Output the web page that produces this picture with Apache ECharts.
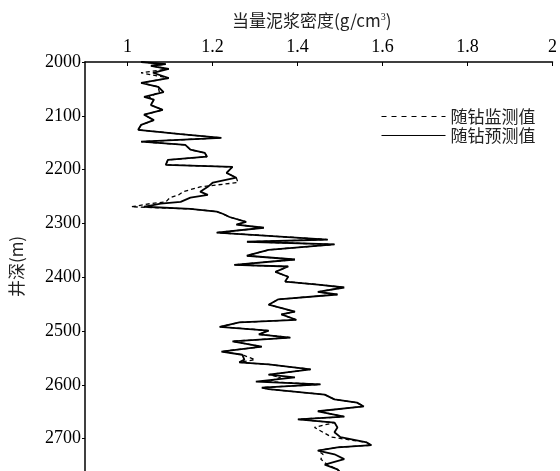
<!DOCTYPE html>
<html>
<head>
<meta charset="utf-8">
<script src="https://cdn.jsdelivr.net/npm/echarts@6/dist/echarts.min.js"></script>
<style>
    html, body { margin: 0; padding: 0; background: #fff; }
    #chart { width: 560px; height: 471px; }
</style>
</head>
<body>
<div id="chart"></div>
<script>
// 井深 (m)
const depths = [2000, 2004, 2007, 2013, 2020, 2030, 2039, 2046, 2056, 2065, 2070, 2080, 2089, 2098, 2108, 2117, 2126, 2134, 2141, 2148,
    2154, 2163, 2169, 2176, 2182, 2191, 2195, 2206, 2215, 2224, 2232, 2241, 2247, 2252, 2260, 2263, 2269, 2273, 2278, 2282,
    2288, 2297, 2302, 2308, 2317, 2330, 2334, 2339, 2349, 2360, 2367, 2377, 2380, 2390, 2399, 2408, 2414, 2419, 2427, 2432,
    2441, 2451, 2464, 2469, 2479, 2484, 2492, 2499, 2506, 2512, 2519, 2529, 2538, 2544, 2553, 2558, 2562, 2571, 2581, 2586,
    2594, 2599, 2605, 2608, 2618, 2627, 2633, 2640, 2649, 2659, 2664, 2670, 2679, 2688, 2697, 2707, 2712, 2716, 2722, 2729,
    2738, 2748, 2757, 2766];

// 随钻预测值
const predicted = [1.032, 1.090, 1.055, 1.097, 1.060, 1.097, 1.032, 1.072, 1.085, 1.039, 1.062, 1.055, 1.083, 1.039, 1.062, 1.032, 1.025, 1.125, 1.221, 1.032,
    1.136, 1.148, 1.182, 1.187, 1.095, 1.090, 1.247, 1.233, 1.256, 1.201, 1.189, 1.171, 1.189, 1.148, 1.125, 1.078, 1.039, 1.148, 1.210, 1.224,
    1.240, 1.279, 1.256, 1.321, 1.210, 1.471, 1.281, 1.487, 1.332, 1.281, 1.394, 1.251, 1.378, 1.348, 1.378, 1.371, 1.454, 1.510, 1.448, 1.494,
    1.355, 1.332, 1.394, 1.362, 1.397, 1.263, 1.217, 1.332, 1.309, 1.383, 1.247, 1.316, 1.221, 1.270, 1.275, 1.263, 1.332, 1.431, 1.332, 1.394,
    1.302, 1.454, 1.316, 1.332, 1.464, 1.487, 1.540, 1.556, 1.448, 1.510, 1.401, 1.487, 1.494, 1.487, 1.501, 1.563, 1.574, 1.494, 1.448, 1.487,
    1.510, 1.464, 1.494, 1.505];

// 随钻监测值
const monitored = [1.032, 1.090, 1.055, 1.097, 1.032, 1.097, 1.032, 1.072, 1.075, 1.050, 1.062, 1.055, 1.083, 1.039, 1.062, 1.032, 1.025, 1.125, 1.221, 1.032,
    1.136, 1.148, 1.182, 1.187, 1.095, 1.090, 1.247, 1.233, 1.256, 1.260, 1.171, 1.131, 1.120, 1.100, 1.090, 1.055, 1.009, 1.148, 1.210, 1.224,
    1.240, 1.279, 1.256, 1.321, 1.210, 1.471, 1.281, 1.487, 1.332, 1.281, 1.394, 1.251, 1.378, 1.348, 1.378, 1.371, 1.454, 1.510, 1.448, 1.494,
    1.355, 1.332, 1.394, 1.362, 1.397, 1.263, 1.217, 1.332, 1.309, 1.383, 1.247, 1.316, 1.221, 1.270, 1.300, 1.263, 1.332, 1.431, 1.332, 1.360,
    1.330, 1.454, 1.316, 1.332, 1.464, 1.487, 1.540, 1.556, 1.448, 1.510, 1.401, 1.487, 1.440, 1.460, 1.480, 1.563, 1.574, 1.494, 1.448, 1.460,
    1.455, 1.470, 1.494, 1.505];

const xTicks = [1, 1.2, 1.4, 1.6, 1.8, 2];
const legendNames = ['随钻监测值', '随钻预测值'];

const serif = 'Liberation Serif';
const cjk = 'Noto Sans CJK SC';

function pairs(values) {
    return values.map((v, i) => [v, depths[i]]);
}

const chart = echarts.init(document.getElementById('chart'));

const option = {
    animation: false,
    backgroundColor: '#fff',
    grid: {
        left: 84,
        top: 62,
        width: 476,
        height: 410,
    },
    legend: {
        orient: 'vertical',
        left: 376,
        top: 103,
        itemWidth: 64,
        itemHeight: 14,
        itemGap: 2,
        itemStyle: { opacity: 0 },
        data: [
            { name: legendNames[0], lineStyle: { type: [5, 5], width: 1 } },
            { name: legendNames[1], lineStyle: { width: 1 } },
        ],
        textStyle: {
            fontFamily: cjk,
            fontSize: 17,
            color: '#222',
        },
    },
    xAxis: {
        type: 'value',
        position: 'top',
        min: 0.9,
        max: 2,
        name: '{a|当量泥浆密度(g/cm}{s|3}{a|)}',
        nameLocation: 'middle',
        nameGap: 33,
        nameTextStyle: {
            padding: [0, 14, 0, 0],
            rich: {
                a: { fontFamily: cjk, fontSize: 17, color: '#222' },
                s: { fontFamily: serif, fontSize: 10, color: '#222', verticalAlign: 'top' },
            },
        },
        axisLine: { lineStyle: { color: '#000', width: 1.5 } },
        axisTick: { inside: true, length: 4, customValues: xTicks, lineStyle: { color: '#000' } },
        axisLabel: {
            customValues: xTicks,
            margin: 6,
            fontFamily: serif,
            fontSize: 18,
            color: '#000',
            formatter: (v) => String(v),
        },
        splitLine: { show: false },
    },
    yAxis: {
        type: 'value',
        inverse: true,
        min: 2000,
        max: 2760,
        interval: 100,
        name: '井深(m)',
        nameLocation: 'middle',
        nameGap: 60,
        nameTextStyle: { fontFamily: cjk, fontSize: 17, color: '#222' },
        axisLine: { lineStyle: { color: '#000', width: 1.5 } },
        axisTick: { length: 3, lineStyle: { color: '#000' } },
        axisLabel: {
            showMaxLabel: false,
            margin: 4,
            fontFamily: serif,
            fontSize: 18,
            color: '#000',
            formatter: (v) => String(v),
        },
        splitLine: { show: false },
    },
    series: [
        {
            name: '随钻预测值',
            type: 'line',
            symbol: 'none',
            z: 2,
            lineStyle: { color: '#000', width: 1.8 },
            itemStyle: { color: '#000' },
            data: pairs(predicted),
        },
        {
            name: '随钻监测值',
            type: 'line',
            symbol: 'none',
            z: 3,
            lineStyle: { color: '#000', width: 1.3, type: [4, 3] },
            itemStyle: { color: '#000' },
            data: pairs(monitored),
        },
    ],
};

chart.setOption(option);
</script>
</body>
</html>
